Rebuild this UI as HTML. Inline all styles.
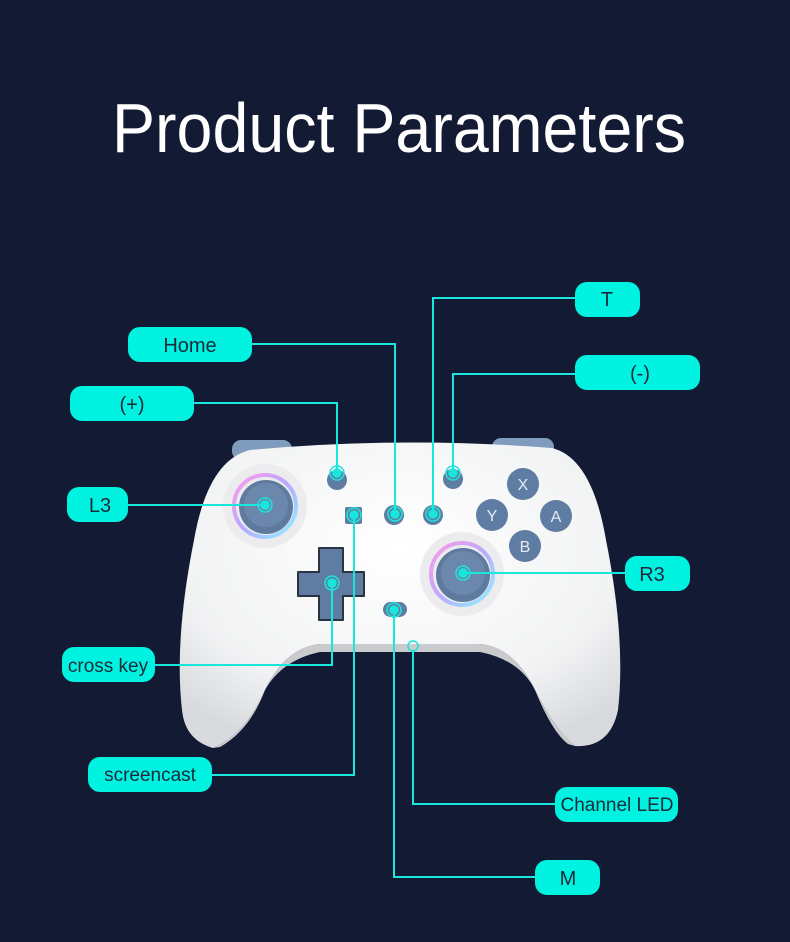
<!DOCTYPE html>
<html><head><meta charset="utf-8"><style>
html,body{margin:0;padding:0;background:#131a33;}
svg{display:block;}
text{font-family:"Liberation Sans",sans-serif;}
</style></head><body>
<svg width="790" height="942" viewBox="0 0 790 942" xmlns="http://www.w3.org/2000/svg">
<defs>
<radialGradient id="body" cx="50%" cy="35%" r="70%"><stop offset="0" stop-color="#ffffff"/><stop offset="0.7" stop-color="#f2f3f4"/><stop offset="1" stop-color="#d8dadd"/></radialGradient>
<linearGradient id="ring" x1="0" y1="0" x2="1" y2="1"><stop offset="0" stop-color="#ff9de8"/><stop offset="0.5" stop-color="#b8a8ff"/><stop offset="1" stop-color="#8ff5ff"/></linearGradient>
</defs>
<rect width="790" height="942" fill="#131a33"/>
<text x="399" y="152" font-size="70" fill="#ffffff" text-anchor="middle" textLength="574" lengthAdjust="spacingAndGlyphs">Product Parameters</text>

<!-- bumpers -->
<rect x="232" y="440" width="60" height="20" rx="9" fill="#7f9cbf"/>
<rect x="492" y="438" width="62" height="20" rx="9" fill="#7f9cbf"/>
<!-- controller body -->
<path d="M250 450 Q400 436 552 448 Q592 458 606 540 Q626 640 618 710 Q610 748 575 746 Q555 730 535 690 Q515 648 480 644 L320 644 Q285 648 265 690 Q245 735 213 748 Q185 740 182 710 Q174 640 194 540 Q208 460 250 450 Z" fill="url(#body)"/>
<path d="M265 690 Q285 648 320 644 L480 644 Q515 648 535 690 Q520 660 480 652 L320 652 Q282 660 265 690Z" fill="#c9cbce"/>
<path d="M213 748 Q245 735 265 690 Q250 730 220 747Z" fill="#c9cbce"/>
<path d="M575 746 Q555 730 535 690 Q552 732 568 744Z" fill="#c9cbce"/>

<!-- left stick -->
<circle cx="265" cy="506" r="42" fill="#ececee"/>
<circle cx="265" cy="506" r="31" fill="none" stroke="url(#ring)" stroke-width="4"/>
<circle cx="266" cy="507" r="27" fill="#5e7a9e"/>
<circle cx="266" cy="505" r="22" fill="#6b87ab"/>
<!-- right stick -->
<circle cx="462" cy="574" r="42" fill="#ececee"/>
<circle cx="462" cy="574" r="31" fill="none" stroke="url(#ring)" stroke-width="4"/>
<circle cx="463" cy="575" r="27" fill="#5e7a9e"/>
<circle cx="463" cy="573" r="22" fill="#6b87ab"/>
<!-- dpad -->
<path d="M319 548 h24 v24 h21 v24 h-21 v24 h-24 v-24 h-21 v-24 h21z" fill="#5f7ca2" stroke="#2a3440" stroke-width="2" stroke-linejoin="round"/>
<!-- small buttons -->
<circle cx="337" cy="480" r="10" fill="#5f7ca2"/>
<circle cx="453" cy="479" r="10" fill="#5f7ca2"/>
<circle cx="394" cy="515" r="10" fill="#5f7ca2"/>
<circle cx="433" cy="515" r="10" fill="#5f7ca2"/>
<rect x="345" y="507" width="17" height="17" rx="2" fill="#5f7ca2"/>
<rect x="383" y="602" width="24" height="15" rx="7.5" fill="#5f7ca2"/>
<!-- face buttons -->
<g fill="#5f7ca2"><circle cx="523" cy="484" r="16"/><circle cx="492" cy="515" r="16"/><circle cx="556" cy="516" r="16"/><circle cx="525" cy="546" r="16"/></g>
<g fill="#e6ecf5" font-size="16" text-anchor="middle"><text x="523" y="490">X</text><text x="492" y="521">Y</text><text x="556" y="522">A</text><text x="525" y="552">B</text></g>

<!-- connectors -->
<g stroke="#19e6dc" stroke-width="2" fill="none">
<polyline points="252,344 395,344 395,514"/>
<polyline points="575,298 433,298 433,514"/>
<polyline points="194,403 337,403 337,473"/>
<polyline points="575,374 453,374 453,473"/>
<polyline points="128,505 265,505"/>
<polyline points="625,573 463,573"/>
<polyline points="155,665 332,665 332,583"/>
<polyline points="212,775 354,775 354,515"/>
<polyline points="555,804 413,804 413,650"/>
<polyline points="535,877 394,877 394,610"/>
</g>
<g fill="#19e6dc" stroke="#19e6dc" stroke-width="1.5">
<circle cx="395" cy="514" r="4"/><circle cx="433" cy="514" r="4"/><circle cx="337" cy="473" r="4"/><circle cx="453" cy="473" r="4"/>
<circle cx="265" cy="505" r="4"/><circle cx="463" cy="573" r="4"/><circle cx="332" cy="583" r="4"/><circle cx="354" cy="515" r="4"/>
<circle cx="394" cy="610" r="4"/>
</g>
<g fill="none" stroke="#19e6dc" stroke-width="1.5">
<circle cx="395" cy="514" r="7"/><circle cx="433" cy="514" r="7"/><circle cx="337" cy="473" r="7"/><circle cx="453" cy="473" r="7"/>
<circle cx="265" cy="505" r="7"/><circle cx="463" cy="573" r="7"/><circle cx="332" cy="583" r="7"/><circle cx="354" cy="515" r="7"/>
<circle cx="394" cy="610" r="7"/><circle cx="413" cy="646" r="5"/>
</g>

<!-- labels -->
<g fill="#00f3e0">
<rect x="575" y="282" width="65" height="35" rx="12"/>
<rect x="128" y="327" width="124" height="35" rx="12"/>
<rect x="70" y="386" width="124" height="35" rx="12"/>
<rect x="575" y="355" width="125" height="35" rx="12"/>
<rect x="67" y="487" width="61" height="35" rx="12"/>
<rect x="625" y="556" width="65" height="35" rx="12"/>
<rect x="62" y="647" width="93" height="35" rx="12"/>
<rect x="88" y="757" width="124" height="35" rx="12"/>
<rect x="555" y="787" width="123" height="35" rx="12"/>
<rect x="535" y="860" width="65" height="35" rx="12"/>
</g>
<g fill="#1b2a3a" font-size="20" text-anchor="middle">
<text x="607" y="306">T</text>
<text x="190" y="352">Home</text>
<text x="132" y="411">(+)</text>
<text x="640" y="380">(-)</text>
<text x="100" y="512">L3</text>
<text x="652" y="581">R3</text>
<text x="108" y="672" font-size="19">cross key</text>
<text x="150" y="781" font-size="19">screencast</text>
<text x="617" y="811" font-size="19">Channel LED</text>
<text x="568" y="885">M</text>
</g>
</svg>
</body></html>
